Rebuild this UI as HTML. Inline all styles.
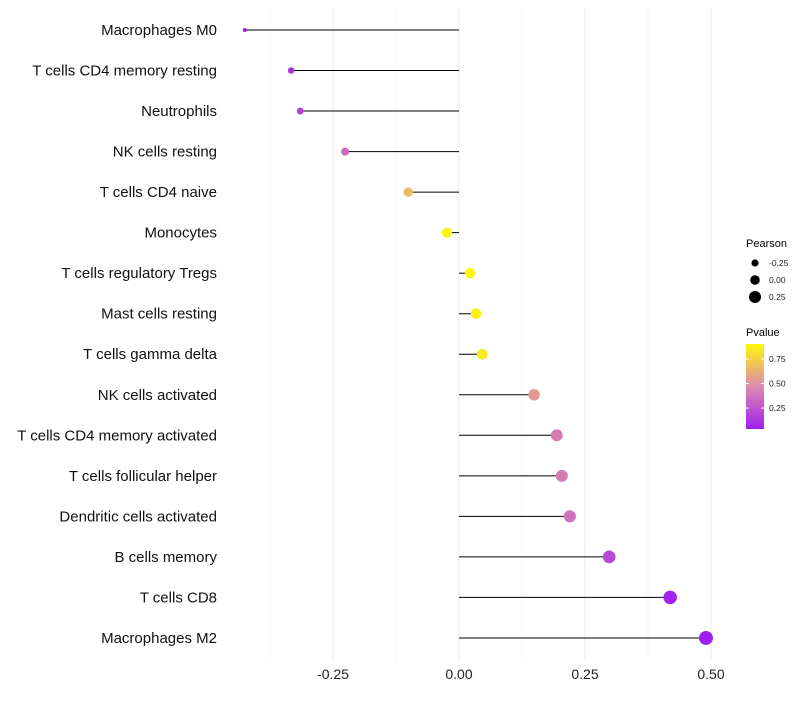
<!DOCTYPE html>
<html><head><meta charset="utf-8"><style>
body{margin:0;background:#fff}
svg text{font-family:"Liberation Sans",sans-serif}
</style></head><body>
<svg id="chart" width="800" height="700" xmlns="http://www.w3.org/2000/svg">
<defs><linearGradient id="pg" x1="0" y1="1" x2="0" y2="0">
<stop offset="0" stop-color="#9F1FF0"/><stop offset="0.5" stop-color="#DC8AAE"/><stop offset="1" stop-color="#FFF80A"/></linearGradient></defs>
<g id="grid"></g>
<g id="marks"></g>
<g id="labels"></g>
<g id="xticks"></g>
<g>
<text x="746" y="247" font-size="11">Pearson</text>
<g id="sizeleg"></g>
<text x="746" y="336" font-size="11">Pvalue</text>
<rect x="746" y="344" width="18" height="85" fill="url(#pg)"/>
<g id="colleg"></g>
</g>
</svg>
<script>
const categories=["Macrophages M0","T cells CD4 memory resting","Neutrophils","NK cells resting","T cells CD4 naive","Monocytes","T cells regulatory  Tregs","Mast cells resting","T cells gamma delta","NK cells activated","T cells CD4 memory activated","T cells follicular helper","Dendritic cells activated","B cells memory","T cells CD8","Macrophages M2"];
const pearson=[-0.425,-0.333,-0.315,-0.226,-0.101,-0.024,0.022,0.034,0.046,0.149,0.194,0.204,0.220,0.298,0.419,0.490];
const pvalue=[0.05,0.12,0.16,0.33,0.65,0.88,0.89,0.86,0.84,0.52,0.40,0.40,0.36,0.20,0.05,0.03];
const xTicks=[-0.25,0,0.25,0.5];
const xTickLabels=["-0.25","0.00","0.25","0.50"];
const sizeLegend=[-0.25,0,0.25];
const sizeLegendLabels=["-0.25","0.00","0.25"];
const colorTicks=[0.25,0.5,0.75];
const colorTickLabels=["0.25","0.50","0.75"];
const NS="http://www.w3.org/2000/svg";
const x=v=>459+v*504;
const y=i=>30+i*40.53;
const r=v=>{const t=Math.max(0,(v+0.425)/0.915);return 2+5*Math.pow(t,0.6);};
const pMin=0.036,pMax=0.89;
function lerp(a,b,t){return a.map((c,i)=>Math.round(c+(b[i]-c)*t));}
function col(p){let t=Math.max(0,Math.min(1,(p-pMin)/(pMax-pMin)));
 const s=[[159,31,240],[222,140,170],[255,248,10]];
 const c=t<0.5?lerp(s[0],s[1],t*2):lerp(s[1],s[2],(t-0.5)*2);return `rgb(${c})`;}
function mk(tag,at,par){const e=document.createElementNS(NS,tag);for(const k in at)e.setAttribute(k,at[k]);document.getElementById(par).appendChild(e);return e;}
for(let v=-0.375;v<=0.51;v+=0.125){const e=mk('line',{x1:x(v),x2:x(v),y1:8,y2:660,stroke:Math.abs((v/0.25)%1)<0.01?'#ebebeb':'#f4f4f4','stroke-width':Math.abs((v/0.25)%1)<0.01?1:0.7},'grid');

}
xTicks.forEach((v,i)=>{const t=mk('text',{x:x(v),y:679,'font-size':14,'text-anchor':'middle',fill:'#222'},'xticks');t.textContent=xTickLabels[i];

});
categories.forEach((c,i)=>{
 const t=mk('text',{x:217,y:y(i)+5,'font-size':15,'text-anchor':'end',fill:'#111'},'labels');t.textContent=c;
 
 
 const l=mk('line',{x1:x(0),x2:x(pearson[i]),y1:y(i),y2:y(i),stroke:'#000','stroke-width':1},'marks');
 
 
 const d=mk('circle',{cx:x(pearson[i]),cy:y(i),r:r(pearson[i]),fill:col(pvalue[i])},'marks');
 
 
});
sizeLegend.forEach((v,i)=>{const cy=263+i*17;
 const d=mk('circle',{cx:755,cy:cy,r:[3.6,4.8,6][i],fill:'#000'},'sizeleg');
 
 
 const t=mk('text',{x:769,y:cy+3,'font-size':8.5,fill:'#222'},'sizeleg');t.textContent=sizeLegendLabels[i];
 
 });
colorTicks.forEach((v,i)=>{const cy=429-(v-pMin)/(pMax-pMin)*85*0.985;
 const t=mk('text',{x:769,y:cy+3,'font-size':8.5,fill:'#222'},'colleg');t.textContent=colorTickLabels[i];
 
 
 const l=mk('line',{x1:746,x2:749,y1:cy,y2:cy,stroke:'#fff'},'colleg');
 
 
 const l2=mk('line',{x1:761,x2:764,y1:cy,y2:cy,stroke:'#fff'},'colleg');
 
 });
</script>
</body></html>
